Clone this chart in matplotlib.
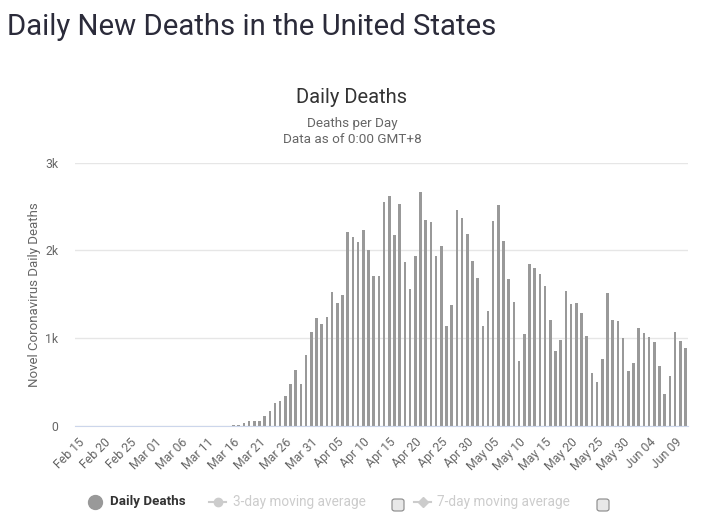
import matplotlib
matplotlib.use("Agg")
import matplotlib.pyplot as plt
import numpy as np
import pandas as pd
from matplotlib.lines import Line2D
from matplotlib.patches import FancyBboxPatch

plt.rcParams['font.family'] = ['Roboto', 'DejaVu Sans']

# daily deaths, Feb 15 .. Jun 11
dates = pd.date_range('2020-02-15', '2020-06-11', freq='D')
early = [0] * 30  # Feb 15 - Mar 15, too small to see
march = [11, 15, 38, 57, 57, 57, 117, 174, 261, 288, 340, 480, 639, 480, 806, 1074]
april = [1229, 1165, 1241, 1525, 1400, 1490, 2213, 2149, 2096, 2228,
         2005, 1706, 1706, 2546, 2614, 2171, 2523, 1865, 1559, 1941,
         2663, 2342, 2327, 1941, 2054, 1142, 1373, 2455, 2364, 2187]
may = [1876, 1683, 1142, 1309, 2330, 2512, 2111, 1672, 1411, 741,
       1052, 1850, 1797, 1733, 1593, 1203, 855, 984, 1540, 1388,
       1396, 1282, 1025, 598, 496, 764, 1513, 1203, 1192, 999, 628]
june = [715, 1112, 1063, 1010, 957, 685, 363, 571, 1074, 968, 893]
deaths = early + march + april + may + june

yticks = [0, 1000, 2000, 3000]
ytick_labels = ['0', '1k', '2k', '3k']
legend_names = ['Daily Deaths', '3-day moving average', '7-day moving average']

W, H = 704, 530
fig = plt.figure(figsize=(W / 100, H / 100), dpi=100)

def fx(px):
    return px / W

def fy(py):
    return 1 - py / H

ax = fig.add_axes([fx(75), fy(426), fx(688) - fx(75), fy(162.5) - fy(426)])
x = np.arange(len(deaths))
ax.bar(x, deaths, width=0.5, color='#999999', zorder=2)

ax.set_xlim(-0.5, len(deaths) - 0.5)
ax.set_ylim(0, 3000)
ax.set_yticks(yticks)
ax.set_yticklabels(ytick_labels)
ax.grid(axis='y', color='#e6e6e6', linewidth=1, zorder=0)
for s in ['top', 'right', 'left']:
    ax.spines[s].set_visible(False)
ax.spines['bottom'].set_color('#ccd6eb')
ax.spines['bottom'].set_zorder(3)

tick_pos = x[::5]
ax.set_xticks(tick_pos)
ax.set_xticklabels([d.strftime('%b %d') for d in dates[::5]], rotation=45,
                   ha='right', rotation_mode='anchor')
ax.tick_params(axis='x', length=0, pad=7, labelsize=8.8, labelcolor='#666666')
ax.tick_params(axis='y', length=0, pad=12, labelsize=8.8, labelcolor='#666666')

ax.set_ylabel('Novel Coronavirus Daily Deaths', fontsize=9.5, color='#666666', labelpad=3)

# titles
fig.text(fx(7), fy(27), 'Daily New Deaths in the United States', fontsize=21.2,
         color='#2b2b3a', va='center', ha='left')
fig.text(fx(352), fy(97.5), 'Daily Deaths', fontsize=14.5, color='#333333', ha='center', va='center')
fig.text(fx(352), fy(123), 'Deaths per Day', fontsize=9.7, color='#666666', ha='center', va='center')
fig.text(fx(352), fy(140), 'Data as of 0:00 GMT+8', fontsize=9.7, color='#666666', ha='center', va='center')

# legend
ly = fy(502)
fig.add_artist(Line2D([fx(95)], [ly], marker='o', markersize=10, color='#999999',
                      linestyle='none', transform=fig.transFigure))
fig.text(fx(110), ly, legend_names[0], fontsize=9.6, fontweight='bold', color='#333333', va='center')

fig.add_artist(Line2D([fx(209), fx(226)], [ly, ly], color='#cccccc', linewidth=1.5,
                      transform=fig.transFigure))
fig.add_artist(Line2D([fx(217.5)], [ly], marker='o', markersize=6, color='#cccccc',
                      linestyle='none', transform=fig.transFigure))
fig.text(fx(233), ly, legend_names[1], fontsize=9.8, color='#cccccc', va='center')

fig.add_artist(Line2D([fx(414), fx(431)], [ly, ly], color='#cccccc', linewidth=1.5,
                      transform=fig.transFigure))
fig.add_artist(Line2D([fx(422.5)], [ly], marker='D', markersize=5, color='#cccccc',
                      linestyle='none', transform=fig.transFigure))
fig.text(fx(437), ly, legend_names[2], fontsize=9.8, color='#cccccc', va='center')

for cx in [398, 603]:
    box = FancyBboxPatch((fx(cx - 6), fy(511)), fx(12), fy(499) - fy(511),
                         boxstyle='round,pad=0,rounding_size=0.004',
                         facecolor='#e8e8e8', edgecolor='#888888', linewidth=0.8,
                         transform=fig.transFigure)
    fig.add_artist(box)

fig.savefig('out.png', dpi=100)
